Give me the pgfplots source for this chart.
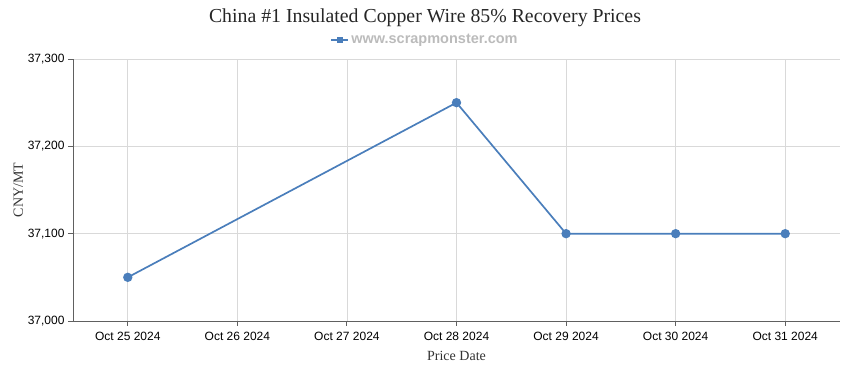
\documentclass[border=0pt]{standalone}
\usepackage{pgfplots}
\pgfplotsset{compat=1.18}
\usepackage{fontspec}
\setmainfont{Liberation Serif}
\newfontfamily\tickfont{Liberation Sans}
\definecolor{linec}{HTML}{4A7EBB}
\definecolor{gridc}{HTML}{D9D9D9}
\definecolor{axisc}{HTML}{606060}
\definecolor{legc}{HTML}{BBBBBB}
\begin{document}
\begin{tikzpicture}
\path[use as bounding box] (0,0) rectangle (850bp,370bp);
\begin{axis}[
  at={(73bp,49bp)}, anchor=south west,
  scale only axis, width=767bp, height=262bp,
  xmin=-0.5, xmax=6.5, ymin=37000, ymax=37300,
  xtick={0,...,6},
  xticklabels={Oct 25 2024,Oct 26 2024,Oct 27 2024,Oct 28 2024,Oct 29 2024,Oct 30 2024,Oct 31 2024},
  ytick={37000,37100,37200,37300},
  scaled y ticks=false,
  yticklabels={{37,000},{37,100},{37,200},{37,300}},
  ticklabel style={font=\tickfont\fontsize{12bp}{14bp}\selectfont, text=black},
  xticklabel style={yshift=-3bp},
  grid=major, major grid style={gridc, line width=0.8pt},
  axis x line*=bottom, axis y line*=left,
  axis line style={axisc, line width=0.9pt, -},
  tick style={axisc, line width=0.9pt},
  tick align=outside, major tick length=5bp,
  xlabel={Price Date}, ylabel={CNY/MT},
  label style={font=\fontsize{14bp}{16bp}\selectfont, text=black!80},
  xlabel style={yshift=-3bp},
  ylabel style={yshift=-2bp},
  legend style={draw=none, fill=none, at={(0.459,1.0725)}, anchor=center,
    font=\tickfont\bfseries\fontsize{14.5bp}{16bp}\selectfont, text=legc},
  legend image post style={line width=1.8pt},
  clip=false,
]
\addlegendimage{linec, mark=square*, mark size=2.2pt, line width=1.8pt}
\addlegendentry{www.scrapmonster.com}
\addplot[linec, line width=1.7pt, mark=*, mark size=3.8pt, mark options={fill=linec, draw=linec}, forget plot]
  coordinates {(0,37050) (3,37250) (4,37100) (5,37100) (6,37100)};
\end{axis}
\node[font=\fontsize{19.8bp}{22bp}\selectfont, text=black!85] at (425bp,352bp) {China \#1 Insulated Copper Wire 85\% Recovery Prices};
\end{tikzpicture}
\end{document}
